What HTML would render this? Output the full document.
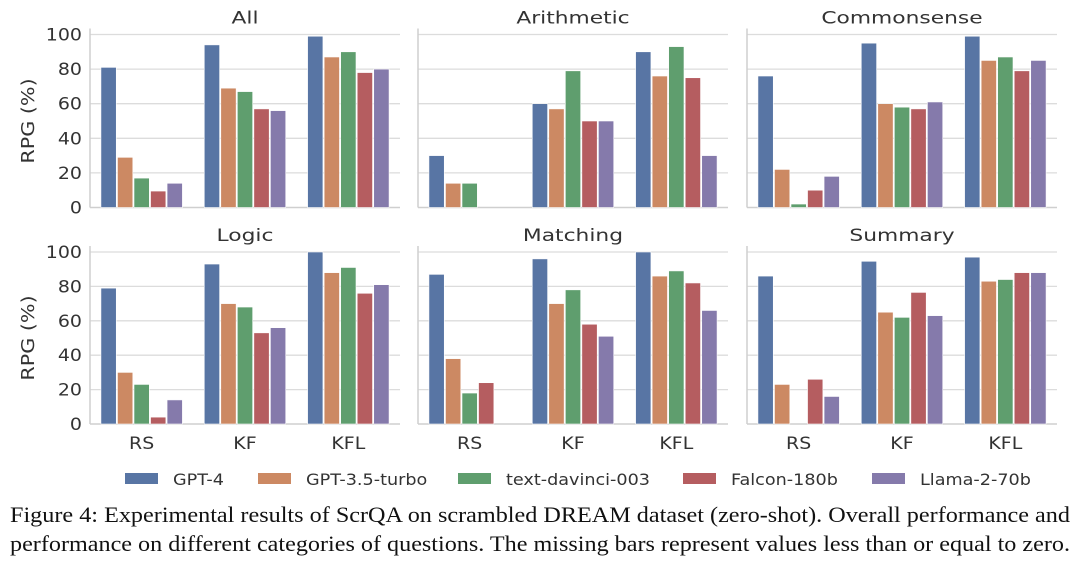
<!DOCTYPE html>
<html><head><meta charset="utf-8"><style>
body{margin:0;background:#fff;width:1080px;height:564px;overflow:hidden}
svg{display:block}
</style></head><body>
<svg id="chart" width="1080" height="564" xmlns="http://www.w3.org/2000/svg" font-family="'DejaVu Sans', 'Liberation Sans', sans-serif"></svg>
<script>
const categories = ["RS","KF","KFL"];
const models = ["GPT-4","GPT-3.5-turbo","text-davinci-003","Falcon-180b","Llama-2-70b"];
const panelTitles = ["All","Arithmetic","Commonsense","Logic","Matching","Summary"];
const yTicks = [0,20,40,60,80,100];
const valsAll = [[81,94,99],[29,69,87],[17,67,90],[9.5,57,78],[14,56,80]];
const valsArithmetic = [[30,60,90],[14,57,76],[14,79,93],[0,50,75],[0,50,30]];
const valsCommonsense = [[76,95,99],[22,60,85],[2,58,87],[10,57,79],[18,61,85]];
const valsLogic = [[79,93,100],[30,70,88],[23,68,91],[4,53,76],[14,56,81]];
const valsMatching = [[87,96,100],[38,70,86],[18,78,89],[24,58,82],[0,51,66]];
const valsSummary = [[86,94.6,97],[23,65,83],[0,62,84],[26,76.5,88],[16,63,88]];
const panelData = [valsAll,valsArithmetic,valsCommonsense,valsLogic,valsMatching,valsSummary];
const colors = ["#5875a4","#cc8963","#5f9e6e","#b55d60","#857aab"];

const svg = document.getElementById('chart');
const NS = "http://www.w3.org/2000/svg";
function mk(tag, attrs, parent){const e=document.createElementNS(NS,tag);for(const k in attrs)e.setAttribute(k,attrs[k]);(parent||svg).appendChild(e);return e;}
function stretch(el,f){const w=el.getComputedTextLength();if(w>0){el.setAttribute('textLength',(w*f).toFixed(1));el.setAttribute('lengthAdjust','spacingAndGlyphs');}}

const colX = [90,418,747], W = 310;
const rowY0 = [207.5,424], rowY100 = [34.5,252];

panelData.forEach((data,pi)=>{
  const col = pi%3, row = Math.floor(pi/3);
  const x0 = colX[col], y0 = rowY0[row], y1 = rowY100[row];
  const yS = v => y0 - (y0-y1)*v/100;
  const g = mk('g',{});
  
  
  yTicks.forEach(t=>{
    if(t>0){const gl=mk('line',{x1:x0,x2:x0+W,y1:yS(t),y2:yS(t),stroke:'#dcdcdc','stroke-width':1.3},g);
      }
    if(col===0){const tl=mk('text',{x:x0-8,y:yS(t)+6,'text-anchor':'end','font-size':16.5,fill:'#333'},g);
      tl.textContent=t;stretch(tl,1.15);}
  });
  const sp1=mk('line',{x1:x0,x2:x0,y1:y1-6,y2:y0,stroke:'#cfcfcf','stroke-width':1.5},g);
  
  const sp2=mk('line',{x1:x0,x2:x0+W,y1:y0,y2:y0,stroke:'#cfcfcf','stroke-width':1.5},g);
  
  const gw = W/3, bw = gw*0.8/5;
  categories.forEach((c,ci)=>{
    const gx = x0 + gw*ci + gw*0.1;
    data.forEach((series,si)=>{
      const v = series[ci];
      if(v<=0) return;
      const r=mk('rect',{x:gx+bw*si+0.6,y:yS(v),width:bw-1.2,height:y0-yS(v),fill:colors[si],stroke:'#fff','stroke-width':0.6},g);
      
      
    });
    if(row===1){const xl=mk('text',{x:x0+gw*ci+gw/2,y:449,'text-anchor':'middle','font-size':16.5,fill:'#333'},g);
      xl.textContent=c;stretch(xl,1.15);}
  });
  const tt=mk('text',{x:x0+W/2,y:y1-11,'text-anchor':'middle','font-size':17,fill:'#333'},g);
  tt.textContent=panelTitles[pi];stretch(tt,1.28);
  if(col===0){const yt=mk('text',{x:0,y:0,transform:`translate(34,${(y0+y1)/2}) rotate(-90)`,'text-anchor':'middle','font-size':18,fill:'#333'},g);
    yt.textContent='RPG (%)';stretch(yt,1.15);}
});

const legX = [125,258,458,683,872];
models.forEach((m,i)=>{
  const lg=mk('g',{});
  
  mk('rect',{x:legX[i],y:473,width:33,height:11,fill:colors[i]},lg);
  const t=mk('text',{x:legX[i]+48,y:485,'font-size':16,fill:'#333'},lg);t.textContent=m;stretch(t,1.1);
});

const c1=mk('text',{x:10,y:522,'font-size':22,fill:'#111','font-family':"'Liberation Serif', serif",textLength:1060,lengthAdjust:'spacingAndGlyphs'});
c1.textContent='Figure 4: Experimental results of ScrQA on scrambled DREAM dataset (zero-shot). Overall performance and';

const c2=mk('text',{x:10,y:551,'font-size':22,fill:'#111','font-family':"'Liberation Serif', serif",textLength:1060,lengthAdjust:'spacingAndGlyphs'});
c2.textContent='performance on different categories of questions. The missing bars represent values less than or equal to zero.';

</script>
</body></html>
